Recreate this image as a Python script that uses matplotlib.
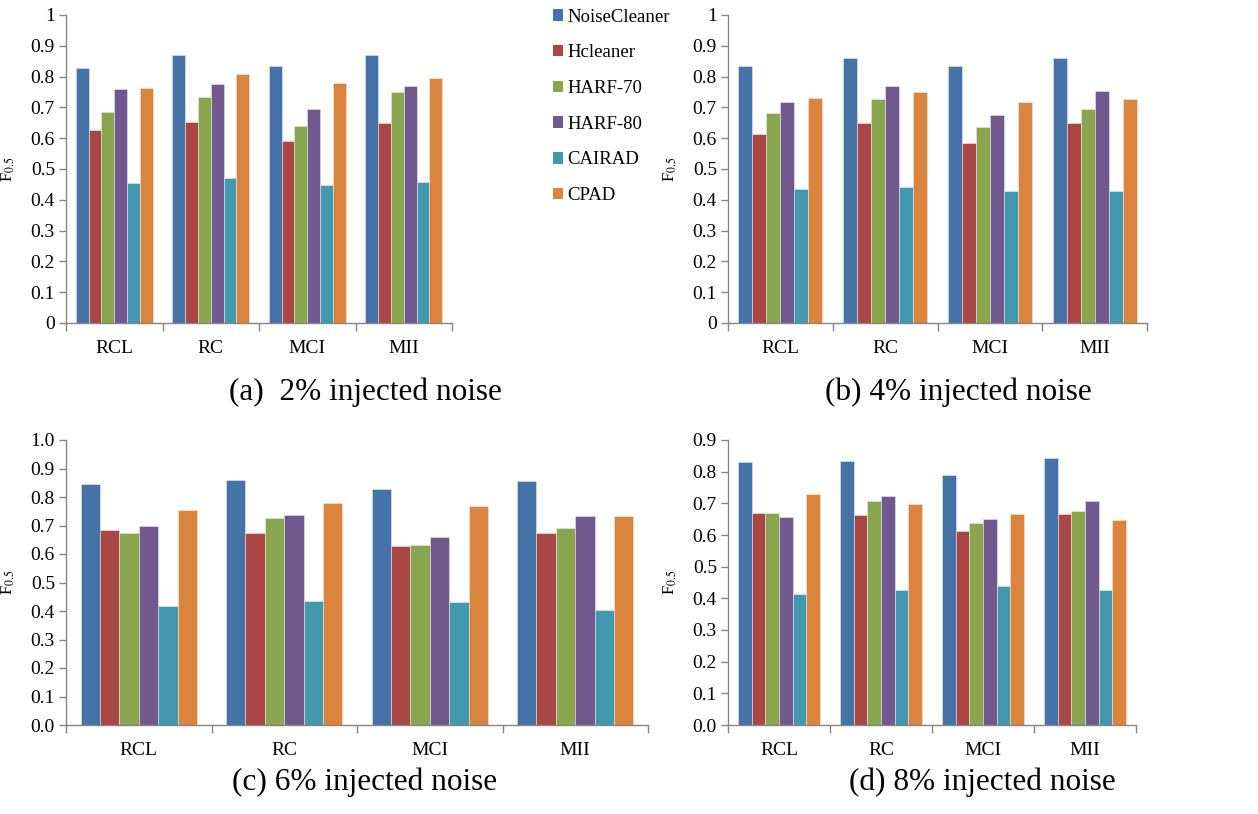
import numpy as np
import matplotlib.pyplot as plt
from matplotlib.patches import Patch
from matplotlib.ticker import FixedLocator, FormatStrFormatter

plt.rcParams['font.family'] = ['Liberation Serif', 'DejaVu Serif']
plt.rcParams['mathtext.fontset'] = 'stix'

datasets = ["RCL", "RC", "MCI", "MII"]
methods = ["NoiseCleaner", "Hcleaner", "HARF-70", "HARF-80", "CAIRAD", "CPAD"]
colors = ["#4572A7", "#AA4643", "#89A54E", "#71588F", "#4198AF", "#DB843D"]

# F0.5 per method, one value per dataset (RCL, RC, MCI, MII)
noise_2 = {
    "NoiseCleaner": [0.829, 0.871, 0.836, 0.869],
    "Hcleaner":     [0.625, 0.652, 0.590, 0.648],
    "HARF-70":      [0.685, 0.733, 0.640, 0.750],
    "HARF-80":      [0.761, 0.776, 0.696, 0.769],
    "CAIRAD":       [0.454, 0.472, 0.448, 0.459],
    "CPAD":         [0.764, 0.810, 0.778, 0.797],
}
noise_4 = {
    "NoiseCleaner": [0.835, 0.859, 0.835, 0.859],
    "Hcleaner":     [0.613, 0.650, 0.585, 0.648],
    "HARF-70":      [0.681, 0.728, 0.636, 0.694],
    "HARF-80":      [0.717, 0.770, 0.674, 0.754],
    "CAIRAD":       [0.434, 0.440, 0.430, 0.430],
    "CPAD":         [0.729, 0.751, 0.718, 0.726],
}
noise_6 = {
    "NoiseCleaner": [0.847, 0.859, 0.827, 0.855],
    "Hcleaner":     [0.683, 0.673, 0.627, 0.675],
    "HARF-70":      [0.672, 0.725, 0.633, 0.690],
    "HARF-80":      [0.699, 0.737, 0.661, 0.735],
    "CAIRAD":       [0.416, 0.435, 0.433, 0.402],
    "CPAD":         [0.754, 0.780, 0.768, 0.735],
}
noise_8 = {
    "NoiseCleaner": [0.830, 0.834, 0.791, 0.844],
    "Hcleaner":     [0.669, 0.664, 0.613, 0.665],
    "HARF-70":      [0.669, 0.707, 0.637, 0.677],
    "HARF-80":      [0.656, 0.724, 0.649, 0.707],
    "CAIRAD":       [0.415, 0.427, 0.438, 0.426],
    "CPAD":         [0.729, 0.699, 0.665, 0.647],
}

W, H = 1258, 814
fig = plt.figure(figsize=(W / 100, H / 100), dpi=100)


def px_axes(left, top, right, bottom):
    return fig.add_axes([left / W, 1 - bottom / H, (right - left) / W, (bottom - top) / H])


def draw_panel(ax, data, ymax, fmt, caption, cap_x, cap_y):
    x = np.arange(len(datasets))
    bw = 0.8 / len(methods)
    for i, m in enumerate(methods):
        ax.bar(x - 0.4 + bw * (i + 0.5), data[m], bw, color=colors[i],
               edgecolor="#e8e8e8", linewidth=0.4)
    ax.set_xlim(-0.5, len(datasets) - 0.5)
    ax.set_ylim(0, ymax)
    ax.set_yticks(np.arange(0, ymax + 0.001, 0.1))
    ax.yaxis.set_major_formatter(FormatStrFormatter(fmt))
    ax.xaxis.set_major_locator(FixedLocator(np.arange(-0.5, len(datasets), 1.0)))
    ax.xaxis.set_minor_locator(FixedLocator(x))
    ax.set_xticklabels([], minor=False)
    ax.set_xticklabels(datasets, minor=True)
    ax.tick_params(axis="x", which="major", length=6, color="#868686", width=1)
    ax.tick_params(axis="x", which="minor", length=0, pad=12, labelsize=14)
    ax.tick_params(axis="y", length=5, color="#868686", width=1, labelsize=14, pad=3)
    for s in ["top", "right"]:
        ax.spines[s].set_visible(False)
    for s in ["left", "bottom"]:
        ax.spines[s].set_color("#868686")
        ax.spines[s].set_linewidth(1)
    ax.set_ylabel(r"F$_{0.5}$", fontsize=12, labelpad=10)
    fig.text(cap_x / W, 1 - cap_y / H, caption, fontsize=22.5, ha="center", va="center")


ax_a = px_axes(66, 15, 452, 323)
draw_panel(ax_a, noise_2, 1.0, "%g", "(a)  2% injected noise", 365, 392)
ax_b = px_axes(728, 15, 1147, 323)
draw_panel(ax_b, noise_4, 1.0, "%g", "(b) 4% injected noise", 958, 392)
ax_c = px_axes(66, 440, 648, 725)
draw_panel(ax_c, noise_6, 1.0, "%.1f", "(c) 6% injected noise", 365, 782)
ax_d = px_axes(728, 440, 1136, 725)
draw_panel(ax_d, noise_8, 0.9, "%.1f", "(d) 8% injected noise", 982, 782)

handles = [Patch(facecolor=c, edgecolor="none") for c in colors]
fig.legend(handles, methods, loc="upper left", bbox_to_anchor=(545 / W, 1 - 1 / H),
           frameon=False, fontsize=13.5, handlelength=0.55, handleheight=0.55,
           handletextpad=0.25, labelspacing=1.0, borderaxespad=0)

fig.savefig("out.png", dpi=100)
